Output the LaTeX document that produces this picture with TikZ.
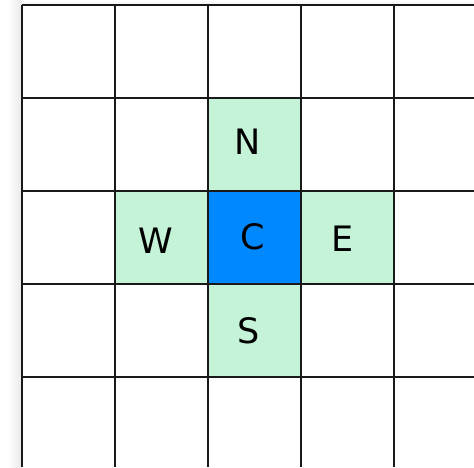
\documentclass[tikz,border=0pt]{standalone}
\usepackage{fontspec}
\setmainfont{DejaVu Sans}
\definecolor{nbr}{RGB}{197,243,215}
\definecolor{ctr}{RGB}{0,136,255}
\begin{document}
\begin{tikzpicture}[x=1pt,y=-1pt,
  gridline/.style={line width=2.6pt,black!90},
  lbl/.style={font=\fontsize{35}{35}\selectfont,inner sep=0pt,anchor=center}]
\useasboundingbox (0,0) rectangle (474,467);
\fill[white] (0,0) rectangle (474,467);
% soft shadow along left and top
\shade[left color=white,right color=black!9] (8,0) rectangle (22,467);
\shade[top color=white,bottom color=black!5] (22,0) rectangle (474,5);
\fill[white] (22,5) rectangle (474,467);
% coloured cells
\fill[nbr] (208,98) rectangle (301,191);
\fill[nbr] (115,191) rectangle (208,284);
\fill[nbr] (301,191) rectangle (394,284);
\fill[nbr] (208,284) rectangle (301,377);
\fill[ctr] (208,191) rectangle (301,284);
% grid
\foreach \x in {22,115,208,301,394} \draw[gridline] (\x,5) -- (\x,467);
\foreach \y in {5,98,191,284,377} \draw[gridline] (22,\y) -- (474,\y);
% labels
\node[lbl] (n) at (248,142) {N};
\node[lbl] (w) at (156,241) {W};
\node[lbl] (c) at (253,237) {C};
\node[lbl] (e) at (343,239) {E};
\node[lbl] (s) at (249,331) {S};
\end{tikzpicture}
\end{document}
